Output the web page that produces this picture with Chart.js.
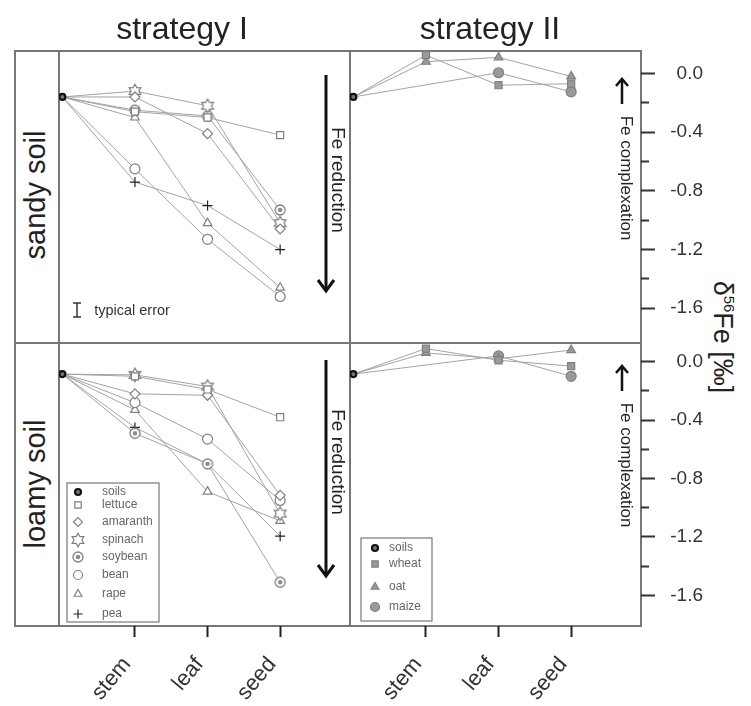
<!DOCTYPE html>
<html>
<head>
<meta charset="utf-8">
<script src="https://cdn.jsdelivr.net/npm/chart.js@4.4.1/dist/chart.umd.min.js"></script>
<style>
body { margin: 0; background: #fff; font-family: "Liberation Sans", Arial, sans-serif; }
#wrap { position: relative; width: 751px; height: 706px; overflow: hidden; }
canvas { position: absolute; }
.ln { position: absolute; background: #777; }
.txt { position: absolute; white-space: nowrap; color: #222; transform: translate(-50%, -50%); }
.r90 { transform: translate(-50%, -50%) rotate(90deg); }
.rm90 { transform: translate(-50%, -50%) rotate(-90deg); }
</style>
</head>
<body>
<div id="wrap">
  <!-- frame -->
  <div class="ln" style="left:14px;top:50px;width:628px;height:1.5px"></div>
  <div class="ln" style="left:14px;top:342px;width:628px;height:1.5px"></div>
  <div class="ln" style="left:14px;top:625px;width:628px;height:1.5px"></div>
  <div class="ln" style="left:14px;top:50px;width:1.5px;height:577px"></div>
  <div class="ln" style="left:58px;top:50px;width:1.5px;height:577px"></div>
  <div class="ln" style="left:349px;top:50px;width:1.5px;height:577px"></div>
  <div class="ln" style="left:640px;top:50px;width:1.5px;height:577px"></div>

  <canvas id="tl" width="291" height="302" style="left:59px;top:40px"></canvas>
  <canvas id="tr" width="353" height="302" style="left:350px;top:40px"></canvas>
  <canvas id="bl" width="291" height="374" style="left:59px;top:332px"></canvas>
  <canvas id="br" width="353" height="374" style="left:350px;top:332px"></canvas>

  <div class="txt" style="left:182px;top:28px;font-size:32px">strategy I</div>
  <div class="txt" style="left:490px;top:28px;font-size:32px">strategy II</div>
  <div class="txt rm90" style="left:35px;top:195px;font-size:29px">sandy soil</div>
  <div class="txt rm90" style="left:35px;top:484px;font-size:29px">loamy soil</div>
  <div class="txt r90" style="left:722px;top:337px;font-size:27px">δ<sup style="font-size:15px">56</sup>Fe [‰]</div>
  <div class="txt r90" style="left:338px;top:180px;font-size:19px">Fe reduction</div>
  <div class="txt r90" style="left:338px;top:462px;font-size:19px">Fe reduction</div>
  <div class="txt r90" style="left:626px;top:178px;font-size:17px">Fe complexation</div>
  <div class="txt r90" style="left:626px;top:465px;font-size:17px">Fe complexation</div>
  <div class="txt" style="left:132px;top:310px;font-size:14.5px;color:#333">typical error</div>

  <svg width="751" height="706" style="position:absolute;left:0;top:0">
    <g stroke="#111" stroke-width="3" fill="none">
      <line x1="326" y1="75" x2="326" y2="290"/>
      <polyline points="318,280 326,291 334,280"/>
      <line x1="326" y1="360" x2="326" y2="575"/>
      <polyline points="318,565 326,576 334,565"/>
      <!-- complexation arrows -->
      <line x1="622" y1="79" x2="622" y2="104" stroke-width="2.5"/>
      <polyline points="616,86 622,79 628,86" stroke-width="2.5"/>
      <line x1="622" y1="366" x2="622" y2="391" stroke-width="2.5"/>
      <polyline points="616,373 622,366 628,373" stroke-width="2.5"/>
    </g>
    <g stroke="#333" stroke-width="1.5">
      <line x1="77" y1="303" x2="77" y2="317"/>
      <line x1="73" y1="303" x2="81" y2="303"/>
      <line x1="73" y1="317" x2="81" y2="317"/>
    </g>
  </svg>
</div>

<script>
// x positions: soils, stem, leaf, seed
const parts = ['soils', 'stem', 'leaf', 'seed']
const yTicks = [0, -0.2, -0.4, -0.6, -0.8, -1.0, -1.2, -1.4, -1.6]

// d56Fe of the soils
const soilSandy = -0.16
const soilLoamy = -0.085

// strategy I plants, values for stem, leaf, seed
const sandyLettuce = [-0.26, -0.30, -0.42]
const sandyAmaranth = [-0.16, -0.41, -1.06]
const sandySpinach = [-0.12, -0.22, -1.02]
const sandySoybean = [-0.25, -0.29, -0.93]
const sandyBean = [-0.65, -1.13, -1.52]
const sandyRape = [-0.30, -1.02, -1.46]
const sandyPea = [-0.74, -0.90, -1.20]

const loamyLettuce = [-0.10, -0.19, -0.38]
const loamyAmaranth = [-0.22, -0.23, -0.915]
const loamySpinach = [-0.09, -0.17, -1.04]
const loamySoybean = [-0.49, -0.70, -1.51]
const loamyBean = [-0.28, -0.53, -0.95]
const loamyRape = [-0.33, -0.89, -1.09]
const loamyPea = [-0.45, -0.70, -1.195]

// strategy II plants (maize stem not measured)
const sandyWheat = [0.125, -0.08, -0.07]
const sandyOat = [0.08, 0.11, -0.02]
const sandyMaize = [null, 0.005, -0.125]

const loamyWheat = [0.09, 0.01, -0.03]
const loamyOat = [0.06, 0.02, 0.08]
const loamyMaize = [null, 0.04, -0.10]

const font = '"Liberation Sans", Arial, sans-serif'
const xMin = -0.046, xMax = 3.962

// custom markers
function hexagram() {
    let c = document.createElement('canvas')
    c.width = 16; c.height = 16
    let g = c.getContext('2d')
    g.translate(8, 8)
    g.beginPath()
    for (let k = 0; k < 12; k++) {
        let r = k % 2 === 0 ? 6.8 : 3.9
        let a = -Math.PI / 2 + k * Math.PI / 6
        g.lineTo(r * Math.cos(a), r * Math.sin(a))
    }
    g.closePath()
    g.fillStyle = '#fff'
    g.fill()
    g.strokeStyle = '#808080'
    g.lineWidth = 1.2
    g.stroke()
    return c
}

function dotCircle() {
    let c = document.createElement('canvas')
    c.width = 14; c.height = 14
    let g = c.getContext('2d')
    g.beginPath()
    g.arc(7, 7, 5, 0, Math.PI * 2)
    g.fillStyle = '#fff'
    g.fill()
    g.strokeStyle = '#808080'
    g.lineWidth = 1.3
    g.stroke()
    g.beginPath()
    g.arc(7, 7, 2.3, 0, Math.PI * 2)
    g.fillStyle = '#8a8a8a'
    g.fill()
    return c
}

const starImg = hexagram()
const soyImg = dotCircle()

function soilSet(soil) {
    return {
        label: 'soils',
        data: [{x: 0, y: soil}],
        showLine: false,
        pointStyle: 'circle',
        pointRadius: 3,
        pointBorderWidth: 2.2,
        pointBorderColor: '#111',
        pointBackgroundColor: '#777',
        clip: false
    }
}

function plantSet(label, soil, vals, style, filled) {
    let pts = [{x: 0, y: soil}]
    vals.forEach(function(v, i) {
        if (v !== null) pts.push({x: i + 1, y: v})
    })
    return {
        label: label,
        data: pts,
        borderColor: '#a3a3a3',
        borderWidth: 1,
        pointStyle: style,
        pointRadius: function(ctx) { return ctx.dataIndex === 0 ? 0 : 5 },
        pointBorderWidth: 1.2,
        pointBorderColor: label === 'pea' ? '#222' : '#808080',
        pointBackgroundColor: filled ? '#9a9a9a' : '#fff',
        tension: 0,
        clip: false
    }
}

function strat1(soil, lettuce, amaranth, spinach, soybean, bean, rape, pea) {
    return [
        soilSet(soil),
        plantSet('lettuce', soil, lettuce, 'rect', false),
        plantSet('amaranth', soil, amaranth, 'rectRot', false),
        plantSet('spinach', soil, spinach, starImg, false),
        plantSet('soybean', soil, soybean, soyImg, false),
        plantSet('bean', soil, bean, 'circle', false),
        plantSet('rape', soil, rape, 'triangle', false),
        plantSet('pea', soil, pea, 'cross', false)
    ]
}

function strat2(soil, wheat, oat, maize) {
    return [
        soilSet(soil),
        plantSet('wheat', soil, wheat, 'rect', true),
        plantSet('oat', soil, oat, 'triangle', true),
        plantSet('maize', soil, maize, 'circle', true)
    ]
}

// legend in a box inside the plot area
const boxLegend = {
    id: 'boxLegend',
    afterDatasetsDraw(chart, args, o) {
        if (!o.show) return
        let ctx = chart.ctx, a = chart.chartArea
        ctx.save()
        ctx.strokeStyle = '#777'
        ctx.lineWidth = 1.2
        ctx.strokeRect(a.left + o.x, a.top + o.y, o.w, o.h)
        ctx.font = '12px ' + font
        ctx.textBaseline = 'middle'
        chart.data.datasets.forEach(function(ds, i) {
            let y = a.top + o.rows[i]
            ctx.fillStyle = ds.pointBackgroundColor
            ctx.strokeStyle = ds.pointBorderColor
            ctx.lineWidth = ds.pointBorderWidth
            Chart.helpers.drawPoint(ctx, {
                pointStyle: ds.pointStyle,
                radius: i === 0 ? 3 : 4.5,
                borderWidth: ds.pointBorderWidth,
                rotation: 0
            }, a.left + o.symX, y)
            ctx.fillStyle = '#666'
            ctx.fillText(ds.label, a.left + o.textX, y)
        })
        ctx.restore()
    }
}

function isMajor(v) {
    return Math.abs(Math.round(v / 0.4) * 0.4 - v) < 1e-6
}

function panel(id, datasets, yMin, yMax, withY, withX, legend) {
    return new Chart(document.getElementById(id), {
        type: 'line',
        data: { datasets: datasets },
        options: {
            animation: false,
            responsive: false,
            layout: { padding: { top: 10 }, autoPadding: false },
            plugins: {
                legend: { display: false },
                tooltip: { enabled: false },
                boxLegend: legend || { show: false }
            },
            scales: {
                x: {
                    type: 'linear',
                    min: xMin,
                    max: xMax,
                    display: withX,
                    position: 'bottom',
                    afterBuildTicks: function(s) { s.ticks = [1, 2, 3].map(function(v) { return {value: v} }) },
                    afterFit: function(s) {
                        if (withX) s.height = 80
                        s.paddingLeft = 0
                        s.paddingRight = 0
                    },
                    border: { display: false },
                    grid: { drawOnChartArea: false, tickLength: 11, tickWidth: 2, tickColor: '#222' },
                    ticks: {
                        callback: function(v) { return parts[v] },
                        autoSkip: false,
                        maxRotation: 50,
                        minRotation: 50,
                        padding: 15,
                        labelOffset: -8,
                        color: '#333',
                        font: { size: 22, family: font }
                    }
                },
                y: {
                    type: 'linear',
                    min: yMin,
                    max: yMax,
                    display: withY,
                    position: 'right',
                    afterBuildTicks: function(s) { s.ticks = yTicks.map(function(v) { return {value: v} }) },
                    afterFit: function(s) {
                        if (withY) s.width = 62
                        s.paddingTop = 0
                        s.paddingBottom = 0
                    },
                    border: { display: false },
                    grid: {
                        drawOnChartArea: false,
                        tickLength: 14,
                        tickWidth: 2,
                        tickColor: '#333',
                        tickBorderDash: function(ctx) { return isMajor(ctx.tick.value) ? [] : [8, 40] }
                    },
                    ticks: {
                        callback: function(v) { return isMajor(v) ? (v === 0 ? '0.0' : v.toFixed(1)) : '' },
                        crossAlign: 'far',
                        padding: 6,
                        color: '#333',
                        font: { size: 19, family: font }
                    }
                }
            }
        },
        plugins: [boxLegend]
    })
}

panel('tl', strat1(soilSandy, sandyLettuce, sandyAmaranth, sandySpinach, sandySoybean, sandyBean, sandyRape, sandyPea),
    -1.83, 0.16, false, false)
panel('tr', strat2(soilSandy, sandyWheat, sandyOat, sandyMaize), -1.83, 0.16, true, false)
panel('bl', strat1(soilLoamy, loamyLettuce, loamyAmaranth, loamySpinach, loamySoybean, loamyBean, loamyRape, loamyPea),
    -1.81, 0.135, false, true,
    { show: true, x: 8, y: 141, w: 92, h: 139, symX: 19, textX: 43, rows: [150, 163, 180, 198, 215, 233, 252, 272] })
panel('br', strat2(soilLoamy, loamyWheat, loamyOat, loamyMaize), -1.81, 0.135, true, true,
    { show: true, x: 11, y: 196, w: 71, h: 83, symX: 25, textX: 39, rows: [206, 222, 245, 265] })
</script>
</body>
</html>
